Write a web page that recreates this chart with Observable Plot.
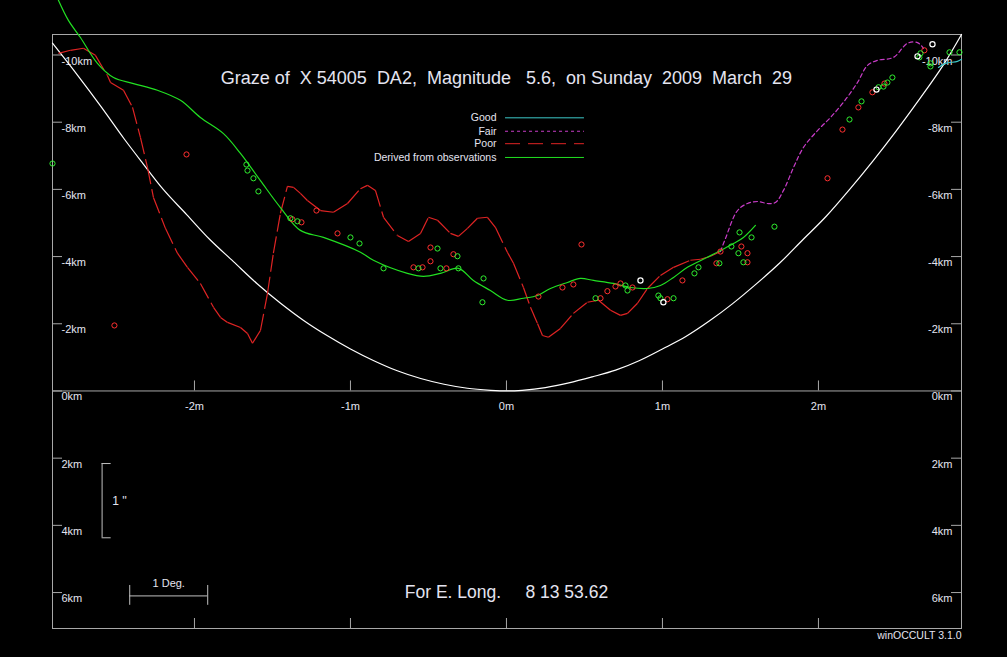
<!DOCTYPE html>
<html><head><meta charset="utf-8">
<script src="https://cdn.jsdelivr.net/npm/d3@7"></script>
<script src="https://cdn.jsdelivr.net/npm/@observablehq/plot@0.6"></script>
<style>
html,body{margin:0;padding:0;background:#000;overflow:hidden}
#chart svg{display:block}
</style></head><body><div id="chart"></div>
<script>
// ---- tick values ----
const mTicks = [-2, -1, 0, 1, 2];
const kmTicks = [-10, -8, -6, -4, -2, 0, 2, 4, 6];

// ---- texts ----
const titleText = "Graze of\u00a0 X 54005\u00a0 DA2,\u00a0 Magnitude\u00a0\u00a0 5.6,\u00a0 on Sunday\u00a0 2009\u00a0 March\u00a0 29";
const footerText = "For E. Long.\u00a0\u00a0\u00a0\u00a0 8 13 53.62";
const creditText = "winOCCULT 3.1.0";
const legendNames = ["Good", "Fair", "Poor", "Derived from observations"];

// ---- lunar limb (white) ----
const limbM  = [-2.91, -2.75, -2.60, -2.45, -2.33, -2.20, -2.05, -1.90, -1.75, -1.60, -1.45, -1.30, -1.15, -1.00, -0.85, -0.70, -0.55, -0.40, -0.25, -0.10, 0.00, 0.10, 0.25, 0.40, 0.55, 0.70, 0.85, 1.00, 1.15, 1.30, 1.45, 1.60, 1.75, 1.90, 2.05, 2.20, 2.35, 2.50, 2.65, 2.80, 2.917];
const limbKm = [-10.35, -9.40, -8.47, -7.50, -6.77, -6.00, -5.25, -4.50, -3.85, -3.20, -2.62, -2.10, -1.65, -1.25, -0.90, -0.60, -0.37, -0.20, -0.08, -0.02, 0.00, -0.02, -0.10, -0.24, -0.42, -0.62, -0.90, -1.25, -1.62, -2.08, -2.60, -3.18, -3.80, -4.50, -5.20, -6.00, -6.85, -7.75, -8.70, -9.70, -10.61];

// ---- profile: Poor (red) ----
const poorM  = [-2.872, -2.795, -2.712, -2.635, -2.558, -2.538, -2.455, -2.397, -2.346, -2.301, -2.263, -2.186, -2.109, -2.045, -1.962, -1.878, -1.833, -1.788, -1.705, -1.660, -1.628, -1.577, -1.532, -1.494, -1.449, -1.404, -1.365, -1.321, -1.276, -1.192, -1.109, -1.019, -0.936, -0.891, -0.840, -0.788, -0.699, -0.628, -0.551, -0.500, -0.442, -0.359, -0.308, -0.250, -0.186, -0.122, -0.071, 0.006, 0.045, 0.109, 0.154, 0.199, 0.231, 0.269, 0.346, 0.429, 0.519, 0.590, 0.667, 0.731, 0.776, 0.840, 0.904, 0.987, 1.071, 1.179, 1.244, 1.308, 1.372];
const poorKm = [-10.05, -10.14, -10.20, -9.99, -9.39, -9.18, -8.95, -8.44, -7.54, -6.65, -5.76, -4.84, -4.10, -3.68, -3.20, -2.49, -2.19, -2.04, -1.89, -1.71, -1.42, -1.80, -2.90, -4.10, -5.29, -6.09, -6.06, -5.88, -5.67, -5.37, -5.32, -5.58, -6.02, -6.12, -5.97, -5.17, -4.63, -4.45, -4.69, -5.17, -5.08, -4.69, -4.60, -4.84, -5.14, -5.17, -4.87, -4.13, -3.80, -3.08, -2.49, -2.01, -1.65, -1.60, -1.86, -2.31, -2.64, -2.70, -2.40, -2.25, -2.31, -2.61, -3.05, -3.44, -3.68, -3.89, -3.92, -4.01, -4.15];

// ---- profile: Fair (magenta) ----
const fairM  = [1.372, 1.404, 1.481, 1.545, 1.609, 1.673, 1.724, 1.776, 1.840, 1.904, 1.994, 2.077, 2.160, 2.250, 2.314, 2.378, 2.481, 2.571, 2.635, 2.673];
const fairKm = [-4.15, -4.54, -5.37, -5.58, -5.64, -5.58, -5.61, -5.97, -6.65, -7.25, -7.75, -8.14, -8.59, -9.18, -9.69, -9.84, -9.93, -10.35, -10.37, -10.20];

// ---- profile: Good (cyan) ----
const goodM  = [2.769, 2.814, 2.891, 2.917];
const goodKm = [-9.63, -9.75, -9.81, -9.87];

// ---- profile derived from observations (green) ----
const derivedM  = [-2.872, -2.808, -2.731, -2.622, -2.519, -2.391, -2.237, -2.090, -1.962, -1.814, -1.705, -1.577, -1.449, -1.321, -1.173, -0.936, -0.853, -0.635, -0.532, -0.423, -0.308, -0.212, -0.103, 0.006, 0.109, 0.199, 0.282, 0.391, 0.474, 0.558, 0.686, 0.795, 0.904, 0.987, 1.071, 1.160, 1.288, 1.372, 1.455, 1.519, 1.596];
const derivedKm = [-11.63, -11.03, -10.52, -9.75, -9.33, -9.15, -8.95, -8.65, -8.14, -7.66, -7.07, -6.26, -5.46, -4.78, -4.57, -4.13, -3.89, -3.50, -3.41, -3.50, -3.65, -3.29, -2.99, -2.70, -2.76, -2.84, -3.05, -3.23, -3.35, -3.29, -3.20, -3.08, -3.05, -3.14, -3.38, -3.68, -3.98, -4.18, -4.39, -4.57, -4.93];

// ---- observed events ----
const redObsM  = [-2.051, -2.513, -1.372, -1.314, -1.218, -1.083, -0.596, -0.538, -0.487, -0.487, -0.385, -0.340, 0.481, 0.205, 0.359, 0.429, 0.603, 0.647, 0.699, 0.731, 0.808, 1.032, 1.128, 1.346, 1.372, 1.506, 1.545, 1.545, 2.058, 2.154, 2.256, 2.346, 2.423, 2.679];
const redObsKm = [-7.04, -1.95, -5.11, -5.02, -5.37, -4.69, -3.68, -3.68, -4.27, -3.86, -3.65, -4.07, -4.36, -2.81, -3.08, -3.17, -2.76, -2.97, -3.11, -3.20, -3.08, -2.73, -3.29, -3.80, -4.15, -4.30, -4.10, -3.83, -6.33, -7.78, -8.44, -8.89, -9.15, -10.14];
const greenObsM  = [-2.910, -1.667, -1.660, -1.622, -1.590, -1.385, -1.340, -1.000, -0.942, -0.788, -0.564, -0.442, -0.423, -0.314, -0.308, -0.147, -0.154, 0.571, 0.763, 0.776, 0.974, 0.987, 1.071, 1.205, 1.231, 1.365, 1.442, 1.494, 1.487, 1.571, 1.519, 1.718, 2.199, 2.276, 2.385, 2.417, 2.442, 2.474, 2.654, 2.647, 2.718, 2.718, 2.840, 2.904];
const greenObsKm = [-6.77, -6.74, -6.56, -6.33, -5.94, -5.14, -5.05, -4.57, -4.39, -3.65, -3.65, -4.24, -3.65, -4.01, -3.65, -3.35, -2.64, -2.76, -3.14, -2.99, -2.84, -2.76, -2.76, -3.50, -3.68, -3.80, -4.30, -4.72, -4.10, -4.57, -3.83, -4.89, -8.08, -8.62, -9.04, -9.06, -9.18, -9.33, -10.05, -9.93, -9.75, -9.66, -10.08, -10.08];
const whiteObsM  = [0.859, 1.006, 2.372, 2.731, 2.635];
const whiteObsKm = [-3.29, -2.64, -8.97, -10.32, -9.96];

// ---- styling / layout (not data) ----
const W = 1007, H = 657, mL = 52, mR = 46, mT = 34, mB = 29;
const xDomain = [-2.91, 2.917], yDomain = [-10.61, 7.07];
const pxPerM = (W - mL - mR) / (xDomain[1] - xDomain[0]);
const pxPerKm = (H - mT - mB) / (yDomain[1] - yDomain[0]);
const tickM = 10 / pxPerM, tickKm = 10 / pxPerKm;
const frameColor = "#a8a8a8", textColor = "#e4e4f0";
const cRed = "#e02424", cGreen = "#22e022", cMag = "#c83cc8", cCyan = "#3cc8c8", cWhite = "#ffffff";

const rows = (xs, ys) => xs.map((x, i) => ({x, y: ys[i]}));
// consecutive segments (the original pen restarts its dash pattern on every segment)
const segs = (xs, ys) => d3.pairs(rows(xs, ys)).map(([a, b]) => ({x1: a.x, y1: a.y, x2: b.x, y2: b.y}));

// legend layout (data-space anchors)
const legLabelX = -0.064, legLineX1 = -0.006, legLineX2 = 0.50;
const legRowY = [-8.13, -7.73, -7.36, -6.95];
const legStyles = [
  {stroke: cCyan}, {stroke: cMag, strokeDasharray: "3,3"},
  {stroke: cRed, strokeDasharray: "15,8"}, {stroke: cGreen}
];

// scale annotations
const arcBarX = -2.592, arcBarEndX = -2.534, arcBarY = [2.16, 4.37];
const degBarX = [-2.415, -1.915], degBarY = 6.10, degTickY = [5.79, 6.38];

const chart = Plot.plot({
  width: W, height: H,
  marginLeft: mL, marginRight: mR, marginTop: mT, marginBottom: mB,
  x: {domain: xDomain, axis: null},
  y: {domain: yDomain, reverse: true, axis: null},
  style: {background: "#000", color: textColor, fontFamily: "'Liberation Sans', Arial, sans-serif", fontSize: "11px"},
  marks: [
    Plot.frame({stroke: frameColor}),
    Plot.ruleY([0], {stroke: frameColor}),
    // km ticks inside frame
    Plot.ruleY(kmTicks, {y: d => d, x1: xDomain[0], x2: xDomain[0] + tickM, stroke: frameColor}),
    Plot.ruleY(kmTicks, {y: d => d, x1: xDomain[1] - tickM, x2: xDomain[1], stroke: frameColor}),
    Plot.text(kmTicks, {x: xDomain[0], y: d => d, text: d => `${d}km`, textAnchor: "start", dx: 9, dy: 6, fill: textColor}),
    Plot.text(kmTicks, {x: xDomain[1], y: d => d, text: d => `${d}km`, textAnchor: "end", dx: -9, dy: 6, fill: textColor}),
    // minute ticks
    Plot.ruleX(mTicks, {x: d => d, y1: 0, y2: -tickKm, stroke: frameColor}),
    Plot.ruleX(mTicks, {x: d => d, y1: yDomain[1], y2: yDomain[1] - tickKm, stroke: frameColor}),
    Plot.text(mTicks, {x: d => d, y: 0, text: d => `${d}m`, dy: 16, fill: textColor}),
    // limb
    Plot.line(rows(limbM, limbKm), {x: "x", y: "y", stroke: cWhite, strokeWidth: 1.2, curve: "catmull-rom"}),
    // profiles
    Plot.link(segs(poorM, poorKm), {x1: "x1", y1: "y1", x2: "x2", y2: "y2", stroke: cRed, strokeWidth: 1.2, strokeDasharray: "17,5"}),
    Plot.line(rows(fairM, fairKm), {x: "x", y: "y", stroke: cMag, strokeWidth: 1.2, strokeDasharray: "4,3", curve: "catmull-rom"}),
    Plot.line(rows(goodM, goodKm), {x: "x", y: "y", stroke: cCyan, strokeWidth: 1.2, curve: "catmull-rom"}),
    Plot.line(rows(derivedM, derivedKm), {x: "x", y: "y", stroke: cGreen, strokeWidth: 1.2, curve: "catmull-rom"}),
    // observations
    Plot.dot(rows(redObsM, redObsKm), {x: "x", y: "y", r: 2.6, stroke: "#ff3030", strokeWidth: 1}),
    Plot.dot(rows(greenObsM, greenObsKm), {x: "x", y: "y", r: 2.6, stroke: "#30f030", strokeWidth: 1}),
    Plot.dot(rows(whiteObsM, whiteObsKm), {x: "x", y: "y", r: 2.6, stroke: cWhite, strokeWidth: 1.2}),
    // title
    Plot.text([titleText], {x: 0, y: -9.30, text: d => d, fontSize: 18, fill: textColor}),
    // legend
    Plot.text(legendNames, {x: legLabelX, y: (d, i) => legRowY[i], text: d => d, textAnchor: "end", fontSize: 10.5, fill: textColor}),
    ...legendNames.map((d, i) => Plot.ruleY([legRowY[i]], {y: v => v, x1: legLineX1, x2: legLineX2, strokeWidth: 1, ...legStyles[i]})),
    // scale bars
    Plot.ruleX([arcBarX], {x: v => v, y1: arcBarY[0], y2: arcBarY[1], stroke: "#c0c0c0"}),
    Plot.ruleY(arcBarY, {y: v => v, x1: arcBarX, x2: arcBarEndX, stroke: "#c0c0c0"}),
    Plot.text(["1 ''"], {x: arcBarEndX, y: (arcBarY[0] + arcBarY[1]) / 2, text: d => d, textAnchor: "start", dx: 1, fontSize: 12, fill: textColor}),
    Plot.ruleY([degBarY], {y: v => v, x1: degBarX[0], x2: degBarX[1], stroke: "#c0c0c0"}),
    Plot.ruleX(degBarX, {x: v => v, y1: degTickY[0], y2: degTickY[1], stroke: "#c0c0c0"}),
    Plot.text(["1 Deg."], {x: (degBarX[0] + degBarX[1]) / 2, y: degBarY, text: d => d, dy: -12, fontSize: 11, fill: textColor}),
    // footer
    Plot.text([footerText], {x: 0, y: 6.0, text: d => d, fontSize: 17.5, fill: textColor}),
    Plot.text([creditText], {x: xDomain[1], y: yDomain[1], text: d => d, textAnchor: "end", dy: 7, fontSize: 10.5, fill: textColor})
  ]
});
document.getElementById("chart").appendChild(chart);
</script></body></html>
